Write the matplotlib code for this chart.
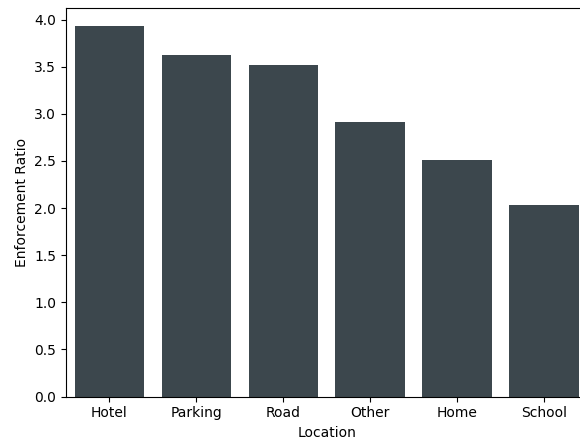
import matplotlib
matplotlib.use("Agg")
import matplotlib.pyplot as plt

locations = ["Hotel", "Parking", "Road", "Other", "Home", "School"]
ratios = [3.93, 3.62, 3.515, 2.91, 2.505, 2.037]

fig = plt.figure(figsize=(5.8, 4.45), dpi=100)
W, H = 580, 445
ax = fig.add_axes([66 / W, (H - 396.5) / H, 521.5 / W, 388.8 / H])
ax.bar(range(len(locations)), ratios, width=0.8, color="#3c474d")
ax.set_xlim(-0.5, len(locations) - 0.5)
ax.set_ylim(0, max(ratios) * 1.05)
ax.set_xticks(range(len(locations)))
ax.set_xticklabels(locations)
ax.set_yticks([0, 0.5, 1.0, 1.5, 2.0, 2.5, 3.0, 3.5, 4.0])
ax.set_xlabel("Location")
ax.set_ylabel("Enforcement Ratio")
fig.savefig("out.png", dpi=100)
